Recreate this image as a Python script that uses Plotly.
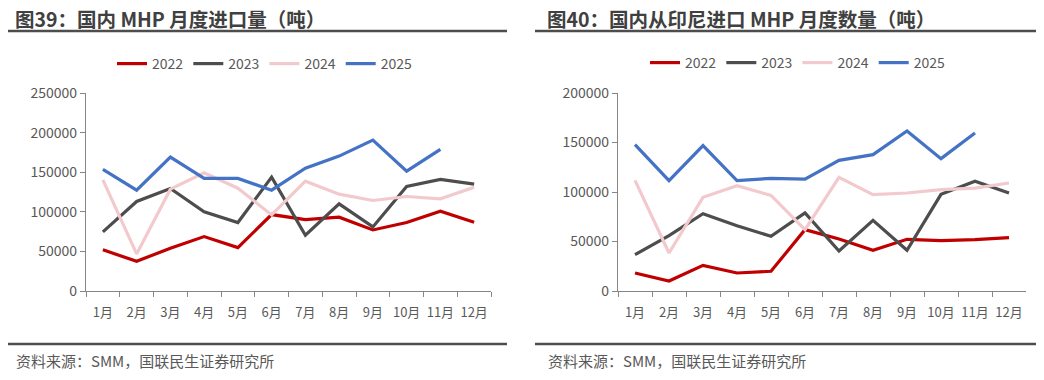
import plotly.graph_objects as go

W, H = 1044, 380
months = ["1月", "2月", "3月", "4月", "5月", "6月", "7月", "8月", "9月", "10月", "11月", "12月"]
years = ["2022", "2023", "2024", "2025"]

# 图39：国内 MHP 月度进口量（吨）
imp_2022 = [52000, 37500, 54000, 68700, 54800, 96500, 90200, 93200, 77100, 86400, 100800, 86800]
imp_2023 = [74600, 113000, 129400, 99900, 86400, 143800, 70400, 110000, 80900, 132000, 140800, 134900]
imp_2024 = [140400, 46800, 128600, 149200, 129800, 96100, 138700, 122300, 114300, 119300, 116400, 131100]
imp_2025 = [153500, 127300, 169100, 142100, 142100, 127300, 155100, 170300, 190600, 151300, 178800]

# 图40：国内从印尼进口 MHP 月度数量（吨）
idn_2022 = [18200, 10100, 25900, 18200, 19900, 62000, 52500, 41100, 52200, 50800, 51800, 53900]
idn_2023 = [36700, 56000, 78100, 66000, 55200, 78800, 40400, 71400, 41100, 97600, 110800, 99000]
idn_2024 = [111800, 38400, 94600, 106400, 96600, 62000, 114800, 97300, 99000, 102400, 104000, 109100]
idn_2025 = [147800, 111400, 146800, 111400, 113800, 113100, 132000, 137700, 161600, 133700, 159600]

colors = ["#C00000", "#4D4D4D", "#F2CACD", "#4472C4"]
FONT = "Noto Sans CJK SC"

fig = go.Figure()

left = [imp_2022, imp_2023, imp_2024, imp_2025]
right = [idn_2022, idn_2023, idn_2024, idn_2025]
for yr, vals, c in zip(years, left, colors):
    fig.add_trace(go.Scatter(x=months[:len(vals)], y=vals, name=yr, mode="lines",
                             line=dict(color=c, width=3.2), xaxis="x", yaxis="y",
                             legend="legend"))
for yr, vals, c in zip(years, right, colors):
    fig.add_trace(go.Scatter(x=months[:len(vals)], y=vals, name=yr, mode="lines",
                             line=dict(color=c, width=3.2), xaxis="x2", yaxis="y2",
                             legend="legend2"))

# page body has an 8px margin: convert screen pixels to paper fractions
OFF = 8

def px(x):
    return (x - OFF) / W

def py(y):
    return 1 - (y - OFF) / H

axis_color = "#868686"
tick_font = dict(family=FONT, size=13, color="#595959")
ytick_font = dict(family=FONT, size=14, color="#595959")

xcommon = dict(type="category", categoryorder="array", categoryarray=months,
               showline=True, linecolor=axis_color, linewidth=1.3,
               ticks="outside", tickson="boundaries", ticklen=5, tickcolor=axis_color,
               showgrid=False, zeroline=False, tickfont=tick_font, fixedrange=True,
               range=[-0.5, 11.5], tickangle=0, automargin=False, ticklabelstandoff=9)
ycommon = dict(showline=True, linecolor=axis_color, linewidth=1.3,
               ticks="outside", ticklen=5, tickcolor=axis_color,
               showgrid=False, zeroline=False, tickfont=ytick_font, tickformat="d",
               dtick=50000, fixedrange=True, automargin=False)

fig.update_layout(
    width=W, height=H,
    margin=dict(l=0, r=0, t=0, b=0, autoexpand=False),
    paper_bgcolor="white", plot_bgcolor="white",
    font=dict(family=FONT, color="#595959"),
    xaxis=dict(domain=[px(86), px(491)], anchor="y", **xcommon),
    yaxis=dict(domain=[py(291), py(93)], anchor="x", range=[0, 250000], **ycommon),
    xaxis2=dict(domain=[px(618), px(1026)], anchor="y2", **xcommon),
    yaxis2=dict(domain=[py(291), py(93)], anchor="x2", range=[0, 200000], **ycommon),
    legend=dict(orientation="h", x=px(112), y=py(64), xanchor="left", yanchor="middle",
                font=dict(family=FONT, size=14, color="#595959"), itemwidth=30,
                bgcolor="rgba(0,0,0,0)", tracegroupgap=0),
    legend2=dict(orientation="h", x=px(645), y=py(63), xanchor="left", yanchor="middle",
                 font=dict(family=FONT, size=14, color="#595959"), itemwidth=30,
                 bgcolor="rgba(0,0,0,0)", tracegroupgap=0),
    showlegend=True,
)

line_color = "#4D4D4D"
shapes = []
for (x0, x1) in [(8, 507), (535, 1041)]:
    shapes.append(dict(type="line", xref="paper", yref="paper", x0=px(x0), x1=px(x1),
                       y0=py(31), y1=py(31), line=dict(color=line_color, width=2.5)))
    shapes.append(dict(type="line", xref="paper", yref="paper", x0=px(x0), x1=px(x1),
                       y0=py(344), y1=py(344), line=dict(color=line_color, width=2.5)))
fig.update_layout(shapes=shapes)

annotations = []
for x0, txt in [(14, "<b>图39：国内 MHP 月度进口量（吨）</b>"),
                (546, "<b>图40：国内从印尼进口 MHP 月度数量（吨）</b>")]:
    annotations.append(dict(xref="paper", yref="paper", x=px(x0), y=py(19),
                            xanchor="left", yanchor="middle", text=txt, showarrow=False,
                            borderpad=0,
                            font=dict(family=FONT, size=19.5, color="#404040")))
for x0 in [14, 546]:
    annotations.append(dict(xref="paper", yref="paper", x=px(x0), y=py(360),
                            xanchor="left", yanchor="middle",
                            text="资料来源：SMM，国联民生证券研究所", showarrow=False,
                            font=dict(family=FONT, size=15, color="#595959")))
fig.update_layout(annotations=annotations)

fig.write_html("out.html")
